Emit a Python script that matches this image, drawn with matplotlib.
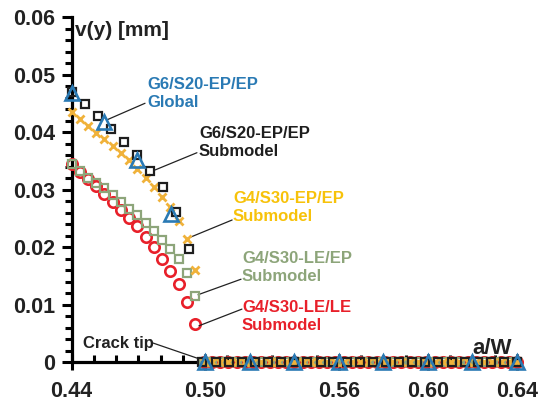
import matplotlib
matplotlib.use('Agg')
import matplotlib.pyplot as plt
from matplotlib.ticker import FixedLocator, MultipleLocator

plt.rcParams['font.family'] = ['Liberation Sans', 'DejaVu Sans']
plt.rcParams['font.weight'] = 'bold'

# fine crack-face grid (G4/S30 submodels)
x_fine = [0.4400, 0.4437, 0.4474, 0.4511, 0.4548, 0.4585, 0.4622, 0.4659, 0.4696, 0.4733,
          0.4770, 0.4807, 0.4844, 0.4881, 0.4919, 0.4956, 0.4993, 0.5030, 0.5067, 0.5104,
          0.5141, 0.5178, 0.5215, 0.5252, 0.5289, 0.5326, 0.5363, 0.5400, 0.5437, 0.5474,
          0.5511, 0.5548, 0.5585, 0.5622, 0.5659, 0.5696, 0.5733, 0.5770, 0.5807, 0.5844,
          0.5881, 0.5919, 0.5956, 0.5993, 0.6030, 0.6067, 0.6104, 0.6141, 0.6178, 0.6215,
          0.6252, 0.6289, 0.6326, 0.6363, 0.6400]
# coarser grid (G6/S20 submodel)
x_coarse = [0.4400, 0.4459, 0.4518, 0.4576, 0.4635, 0.4694, 0.4753, 0.4812, 0.4871, 0.4929,
            0.4988, 0.5047, 0.5106, 0.5165, 0.5224, 0.5282, 0.5341, 0.5400, 0.5459, 0.5518,
            0.5576, 0.5635, 0.5694, 0.5753, 0.5812, 0.5871, 0.5929, 0.5988, 0.6047, 0.6106,
            0.6165, 0.6224, 0.6282, 0.6341, 0.6400]
# global model nodes
x_global = [0.44, 0.4545, 0.4695, 0.4847, 0.50, 0.52, 0.54, 0.56, 0.58, 0.60, 0.62, 0.64]

v_global = [0.0468, 0.0418, 0.0351, 0.0257, 0.0, 0.0, 0.0, 0.0, 0.0, 0.0, 0.0, 0.0]

v_g6_sub = [0.0470, 0.0448, 0.0427, 0.0405, 0.0383, 0.0360, 0.0333, 0.0304, 0.0261, 0.0197,
            0.0, 0.0, 0.0, 0.0, 0.0, 0.0, 0.0, 0.0, 0.0, 0.0,
            0.0, 0.0, 0.0, 0.0, 0.0, 0.0, 0.0, 0.0, 0.0, 0.0,
            0.0, 0.0, 0.0, 0.0, 0.0]

v_epep = [0.0434, 0.0422, 0.0410, 0.0399, 0.0387, 0.0376, 0.0364, 0.0351, 0.0335, 0.0320,
          0.0305, 0.0287, 0.0269, 0.0246, 0.0214, 0.0160, 0.0, 0.0, 0.0, 0.0,
          0.0, 0.0, 0.0, 0.0, 0.0, 0.0, 0.0, 0.0, 0.0, 0.0,
          0.0, 0.0, 0.0, 0.0, 0.0, 0.0, 0.0, 0.0, 0.0, 0.0,
          0.0, 0.0, 0.0, 0.0, 0.0, 0.0, 0.0, 0.0, 0.0, 0.0,
          0.0, 0.0, 0.0, 0.0, 0.0]

v_leep = [0.0345, 0.0332, 0.0320, 0.0311, 0.0303, 0.0291, 0.0279, 0.0266, 0.0255, 0.0241,
          0.0227, 0.0212, 0.0197, 0.0180, 0.0154, 0.0115, 0.0, 0.0, 0.0, 0.0,
          0.0, 0.0, 0.0, 0.0, 0.0, 0.0, 0.0, 0.0, 0.0, 0.0,
          0.0, 0.0, 0.0, 0.0, 0.0, 0.0, 0.0, 0.0, 0.0, 0.0,
          0.0, 0.0, 0.0, 0.0, 0.0, 0.0, 0.0, 0.0, 0.0, 0.0,
          0.0, 0.0, 0.0, 0.0, 0.0]

v_lele = [0.0345, 0.0330, 0.0319, 0.0306, 0.0293, 0.0279, 0.0264, 0.0250, 0.0236, 0.0218,
          0.0200, 0.0180, 0.0159, 0.0135, 0.0104, 0.0066, 0.0, 0.0, 0.0, 0.0,
          0.0, 0.0, 0.0, 0.0, 0.0, 0.0, 0.0, 0.0, 0.0, 0.0,
          0.0, 0.0, 0.0, 0.0, 0.0, 0.0, 0.0, 0.0, 0.0, 0.0,
          0.0, 0.0, 0.0, 0.0, 0.0, 0.0, 0.0, 0.0, 0.0, 0.0,
          0.0, 0.0, 0.0, 0.0, 0.0]

x_ticks = [0.44, 0.50, 0.56, 0.60, 0.64]
x_ticklabels = ['0.44', '0.50', '0.56', '0.60', '0.64']
y_ticks = [0, 0.01, 0.02, 0.03, 0.04, 0.05, 0.06]
y_ticklabels = ['0', '0.01', '0.02', '0.03', '0.04', '0.05', '0.06']

c_blue = '#2a7ab4'
c_black = '#1e1e1e'
c_orange = '#f0b23a'
c_orange_txt = '#f7c20a'
c_green = '#8da57a'
c_red = '#e8202a'

fig = plt.figure(figsize=(5.39, 4.08), dpi=100)
ax = fig.add_axes([0.1327, 0.1127, 0.8265, 0.8456])

ax.plot(x_fine, v_lele, 'o', ms=7.5, mfc='none', mec=c_red, mew=1.9, clip_on=False, zorder=3)
ax.plot(x_fine, v_leep, 's', ms=5.8, mfc='none', mec=c_green, mew=1.6, clip_on=False, zorder=4)
ax.plot(x_fine, v_epep, 'x', ms=5.5, mec=c_orange, mew=2.0, clip_on=False, zorder=5)
ax.plot(x_coarse, v_g6_sub, 's', ms=5.8, mfc='none', mec=c_black, mew=1.6, clip_on=False, zorder=6)
ax.plot(x_global, v_global, '^', ms=10, mfc='none', mec=c_blue, mew=1.9, clip_on=False, zorder=7)

ax.set_xlim(0.44, 0.64)
ax.set_ylim(0, 0.06)

for s in ['top', 'right']:
    ax.spines[s].set_visible(False)
for s in ['left', 'bottom']:
    ax.spines[s].set_linewidth(2.3)
    ax.spines[s].set_zorder(2)

ax.xaxis.set_major_locator(FixedLocator(x_ticks))
ax.set_xticklabels(x_ticklabels)
ax.xaxis.set_minor_locator(MultipleLocator(0.01))
ax.yaxis.set_major_locator(FixedLocator(y_ticks))
ax.set_yticklabels(y_ticklabels)
ax.yaxis.set_minor_locator(MultipleLocator(0.002))

ax.tick_params(axis='x', which='major', direction='inout', length=12, width=2.2,
               labelsize=15.5, pad=8)
ax.tick_params(axis='x', which='minor', direction='in', length=5, width=2.2)
ax.tick_params(axis='y', which='major', direction='out', length=7, width=2.2,
               labelsize=15.5, pad=5)
ax.tick_params(axis='y', which='minor', direction='out', length=5, width=2.2)
for lab in ax.get_xticklabels() + ax.get_yticklabels():
    lab.set_fontweight('bold')
    lab.set_color('#222222')

ax.text(0.4416, 0.0577, 'v(y) [mm]', fontsize=15, fontweight='bold', color='#222222',
        ha='left', va='center')
ax.text(0.6198, 0.0024, 'a/W', fontsize=16, fontweight='bold', color='#222222',
        ha='left', va='center')

labels = [
    ('G6/S20-EP/EP\nGlobal', c_blue, (0.4739, 0.0467), (0.4558, 0.0421), (0.4730, 0.0450)),
    ('G6/S20-EP/EP\nSubmodel', c_black, (0.4972, 0.0382), (0.4775, 0.0334), (0.4963, 0.0364)),
    ('G4/S30-EP/EP\nSubmodel', c_orange_txt, (0.5125, 0.0269), (0.4927, 0.0216), (0.5121, 0.0247)),
    ('G4/S30-LE/EP\nSubmodel', c_green, (0.5165, 0.0165), (0.4968, 0.0117), (0.5161, 0.0144)),
    ('G4/S30-LE/LE\nSubmodel', c_red, (0.5165, 0.0079), (0.4972, 0.0063), (0.5165, 0.0092)),
]
for txt, col, pos, p0, p1 in labels:
    ax.text(pos[0], pos[1], txt, fontsize=12, fontweight='bold', color=col,
            ha='left', va='center', linespacing=1.25)
    ax.annotate('', xy=p0, xytext=p1,
                arrowprops=dict(arrowstyle='-', color='#222222', lw=0.9,
                                shrinkA=0, shrinkB=0))

ax.text(0.4452, 0.0033, 'Crack tip', fontsize=12, fontweight='bold', color='#222222',
        ha='left', va='center')
ax.annotate('', xy=(0.4977, 0.0005), xytext=(0.4766, 0.0033),
            arrowprops=dict(arrowstyle='-', color='#222222', lw=0.9, shrinkA=0, shrinkB=0))

fig.savefig('out.png', dpi=100)
